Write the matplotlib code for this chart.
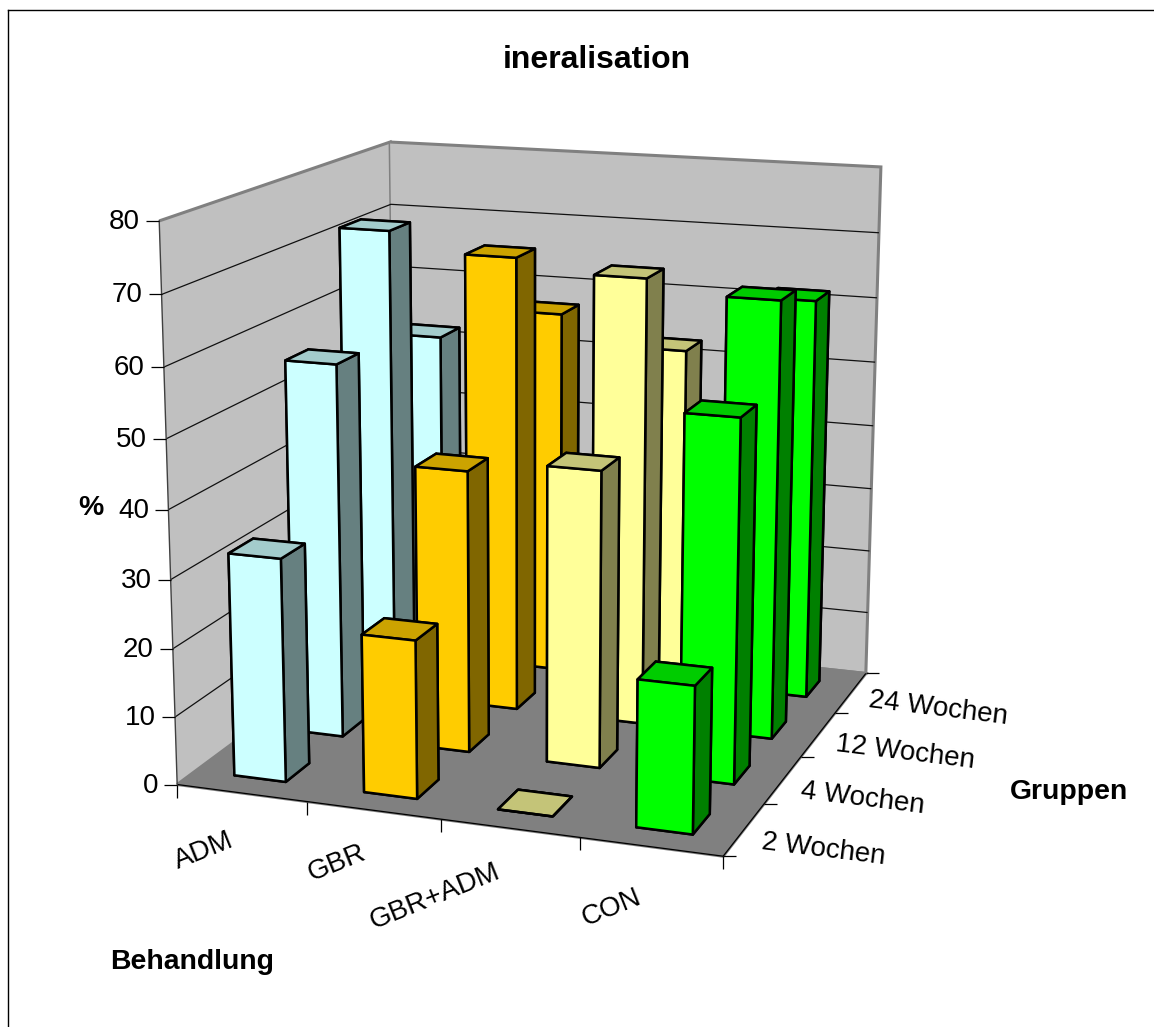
import numpy as np
import matplotlib
matplotlib.use('Agg')
import matplotlib.pyplot as plt
from matplotlib.lines import Line2D
from mpl_toolkits.mplot3d import proj3d

plt.rcParams['font.family'] = ['Liberation Sans', 'DejaVu Sans']

treatments = ['ADM', 'GBR', 'GBR+ADM', 'CON']
groups = ['2 Wochen', '4 Wochen', '12 Wochen', '24 Wochen']
z_ticks = [0, 10, 20, 30, 40, 50, 60, 70, 80]
adm = [32.7, 56, 72, 52]
gbr = [23, 42, 69.2, 57]
gbr_adm = [0, 43.8, 67.4, 52.7]
con = [21, 53, 65.5, 61.7]
values = [adm, gbr, gbr_adm, con]
front_colors = ['#CCFFFF', '#FFCC00', '#FFFF99', '#00FF00']
top_colors = ['#A3CCCC', '#CCA300', '#C4C478', '#00CC00']
side_colors = ['#668080', '#806600', '#80804D', '#008000']

W, H = 1154, 1027
fig = plt.figure(figsize=(W/100, H/100), dpi=100)
ax = fig.add_axes([0, 0, 1, 1], projection='3d')
ax.set_xlim(0, 4); ax.set_ylim(0, 4); ax.set_zlim(0, 80)

# Camera and placement of the 3D axes
el, az, ro, f, bx, by = 14.2541, -70.4975, -0.0463, 0.5802, 0.9960, 1.0120
S, cx, cy = 5014.0305, 540.8761, 465.3373
ax.view_init(el, az, ro)
ax.set_proj_type('persp', focal_length=f)
ax.set_box_aspect((bx, by, 1))
x0, x1 = ax.viewLim.intervalx; y0, y1 = ax.viewLim.intervaly
ax.set_position([(cx + S*x0)/W, (H - (cy - S*y0))/H, S*(x1-x0)/W, S*(y1-y0)/H])
ax.patch.set_alpha(0)
M = ax.get_proj()

def to_px(x, y, z):
    """Pixel position (from the top-left) of a data point, through the axes' projection."""
    X, Y, _ = proj3d.proj_transform(x, y, z, M)
    return cx + S*float(X), cy - S*float(Y)

ax.computed_zorder = False
ax.set_xticks([]); ax.set_yticks([]); ax.set_zticks(z_ticks[1:-1]); ax.set_zticklabels([])
ax.zaxis._axinfo['tick']['inward_factor'] = 0; ax.zaxis._axinfo['tick']['outward_factor'] = 0
ax.zaxis._axinfo['grid'].update(color='#101010', linewidth=0.9)
for a_, col in ((ax.xaxis, '#C0C0C0'), (ax.yaxis, '#C0C0C0'), (ax.zaxis, '#808080')):
    a_.set_pane_color(col); a_.pane.set_edgecolor('#808080'); a_.pane.set_linewidth(2.2); a_.pane.set_alpha(1)
    a_.line.set_color((0, 0, 0, 0))

bw = 0.4
n = 0
for j in range(3, -1, -1):
    for i in range(4):
        n += 1
        c6 = [side_colors[i], top_colors[i], front_colors[i], side_colors[i], side_colors[i], side_colors[i]]
        bb = ax.bar3d(i+0.3, j+0.3, 0, bw, bw, values[i][j], color=c6, edgecolor='k', linewidth=1.8, shade=False)
        bb.set_zorder(10+n)

kw = dict(color='k', lw=0.9, zorder=5, solid_capstyle='butt')
ax.plot([0, 4], [0, 0], [0, 0], **kw)
ax.plot([4, 4], [0, 4], [0, 0], **kw)
ax.plot([0, 0], [0, 0], [0, 80], color='#404040', lw=1.0, zorder=5)

def fline(px, py, dx, dy):
    fig.add_artist(Line2D([px/W, (px+dx)/W], [1-py/H, 1-(py+dy)/H], color='k', lw=0.9, solid_capstyle='butt'))
def ftext(px, py, s, size, bold=False, **k):
    fig.text(px/W, 1-py/H, s, fontsize=size, fontweight='bold' if bold else 'normal',
             va='center', rotation_mode='anchor', **k)

for z in z_ticks:
    px, py = to_px(0, 0, z)
    fline(px, py, -13, 0)
    ftext(px-19, py+1, str(z), 20, ha='right')
for i in range(5):
    px, py = to_px(i, 0, 0)
    fline(px, py, 0, 13)
for j in range(5):
    px, py = to_px(4, j, 0)
    fline(px, py, 13, 0)
x_off = [(-9, 46), (-9, 42), (-11, 43), (-11, 50)]
y_off = [(18, 12), (18, 11), (18, 9), (18, 7)]
for i, s in enumerate(treatments):
    px, py = to_px(i+0.5, 0, 0)
    ftext(px+x_off[i][0], py+x_off[i][1], s, 20, ha='right', rotation=22)
for j, s in enumerate(groups):
    px, py = to_px(4, j+0.5, 0)
    ftext(px+y_off[j][0], py+y_off[j][1], s, 20, ha='left', rotation=-7)

ftext(597, 60, 'ineralisation', 23, bold=True, ha='center')
ftext(91, 508, '%', 20.4, bold=True, ha='center')
ftext(110, 962, 'Behandlung', 20.4, bold=True, ha='left')
ftext(1010, 792, 'Gruppen', 20.4, bold=True, ha='left')
fig.add_artist(Line2D([8/W, 8/W], [0, 1-10/H], color='k', lw=1))
fig.add_artist(Line2D([8/W, 1], [1-10/H, 1-10/H], color='k', lw=1))
fig.savefig('out.png', dpi=100)
